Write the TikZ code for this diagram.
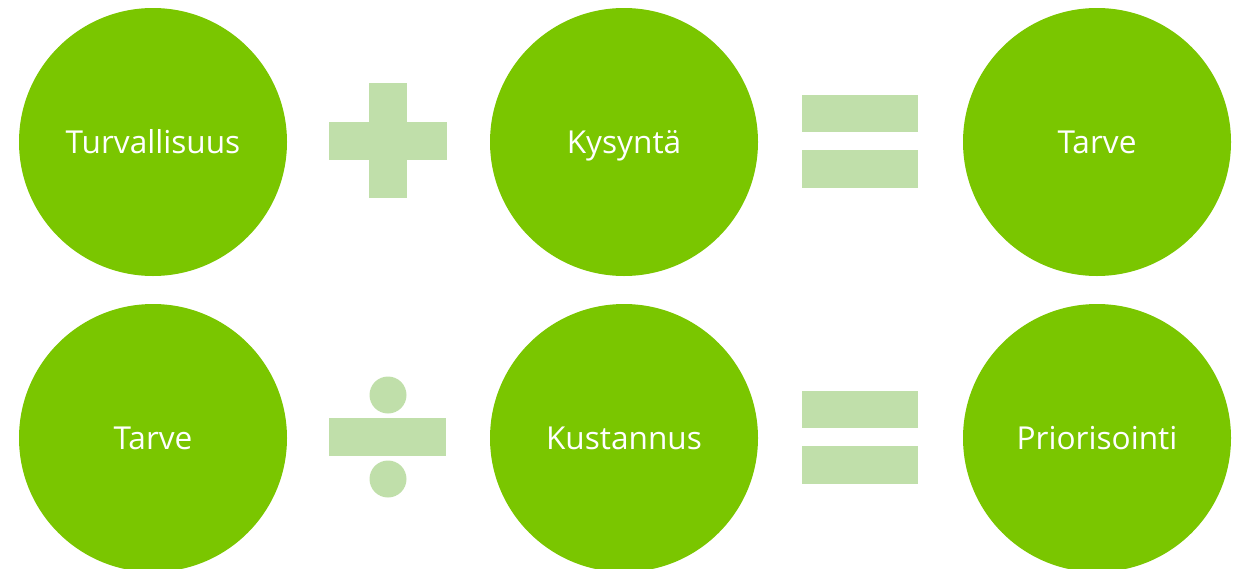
\documentclass[tikz,border=0pt]{standalone}
\usepackage{fontspec}
\setmainfont{Open Sans}
\definecolor{leaf}{RGB}{122,198,0}
\definecolor{mint}{RGB}{192,223,170}
\begin{document}
\begin{tikzpicture}[x=1pt,y=-1pt,
  term/.style={circle,fill=leaf,minimum size=268pt,inner sep=0pt,
    text=white,font=\fontsize{31.6}{38}\selectfont,
    text height=22.6pt,text depth=0pt},
  op/.style={fill=mint}]
\useasboundingbox (0,0) rectangle (1237,568);
% first row: Turvallisuus + Kysyntä = Tarve
\node[term] (t1) at (153,142) {Turvallisuus};
\node[term] (k1) at (624,142) {Kysyntä};
\node[term] (r1) at (1097,142) {Tarve};
% plus sign
\fill[op] (369,83) rectangle (407,198);
\fill[op] (329,122) rectangle (447,160);
% equals sign
\fill[op] (802,95) rectangle (918,132);
\fill[op] (802,150) rectangle (918,188);
% second row: Tarve ÷ Kustannus = Priorisointi
\node[term] (t2) at (153,438) {Tarve};
\node[term] (k2) at (624,438) {Kustannus};
\node[term] (r2) at (1097,438) {Priorisointi};
% division sign
\fill[op] (388,395) circle (18.5);
\fill[op] (329,418) rectangle (446,456);
\fill[op] (388,479) circle (18.5);
% equals sign
\fill[op] (802,391) rectangle (918,428);
\fill[op] (802,446) rectangle (918,484);
\end{tikzpicture}
\end{document}
